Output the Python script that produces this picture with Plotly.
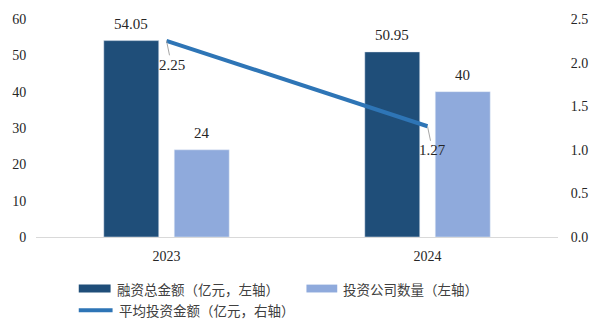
import plotly.graph_objects as go

years = [2023, 2024]
total_financing = [54.05, 50.95]
company_count = [24, 40]
avg_investment = [2.25, 1.27]

name_total = "融资总金额（亿元，左轴）"
name_count = "投资公司数量（左轴）"
name_avg = "平均投资金额（亿元，右轴）"

c_dark = "#1F4E79"
c_light = "#8FAADC"
c_line = "#2E75B6"
serif = "Liberation Serif"
cjk = "Noto Sans CJK SC"
txt = "#262626"

bargap = 0.46
bargroupgap = 0.22
half_slot = (1 - bargap) / 4  # centre offset of each bar inside a group

fig = go.Figure()
fig.add_trace(go.Bar(x=years, y=total_financing, name=name_total, marker_color=c_dark,
                     showlegend=False))
fig.add_trace(go.Bar(x=years, y=company_count, name=name_count, marker_color=c_light,
                     showlegend=False))
fig.add_trace(go.Scatter(x=years, y=avg_investment, name=name_avg, mode="lines",
                         line=dict(color=c_line, width=4), yaxis="y2", showlegend=False))

# bar value labels
for vals, off, fmt in [(total_financing, -half_slot, "{:.2f}"), (company_count, half_slot, "{}")]:
    for x, v in zip(years, vals):
        fig.add_annotation(x=x + off, y=v, xref="x", yref="y", text=fmt.format(v),
                           showarrow=False, yanchor="middle", yshift=17,
                           font=dict(family=serif, size=15, color=txt))

# line value labels
for x, v in zip(years, avg_investment):
    fig.add_annotation(x=x, y=v, xref="x", yref="y2", text=f"{v:.2f}", showarrow=True,
                       arrowhead=0, arrowwidth=1, arrowcolor="#A6A6A6", ax=5, ay=24,
                       font=dict(family=serif, size=15, color=txt))

# manual legend
legend_items = [
    (name_total, c_dark, "rect", 0.0819, 0.1429, -0.2364),
    (name_count, c_light, "rect", 0.5181, 0.5771, -0.2364),
    (name_avg, c_line, "line", 0.0819, 0.1467, -0.3364),
]
for nm, col, kind, x0, x1, yc in legend_items:
    if kind == "rect":
        fig.add_shape(type="rect", xref="paper", yref="paper", x0=x0, x1=x1,
                      y0=yc - 0.018, y1=yc + 0.018, fillcolor=col, line_width=0)
    else:
        fig.add_shape(type="line", xref="paper", yref="paper", x0=x0, x1=x1,
                      y0=yc, y1=yc, line=dict(color=col, width=4))
    fig.add_annotation(xref="paper", yref="paper", x=x1 + 0.008, y=yc, text=nm,
                       showarrow=False, xanchor="left", yanchor="middle",
                       font=dict(family=cjk, size=13.5, color="#404040"))

fig.update_layout(
    width=600, height=333,
    margin=dict(l=35, r=40, t=17, b=96),
    paper_bgcolor="white", plot_bgcolor="white",
    barmode="group", bargap=bargap, bargroupgap=bargroupgap,
    font=dict(family=serif, size=14, color=txt),
    showlegend=False,
    xaxis=dict(type="linear", range=[2022.5, 2024.5], tickvals=years,
               ticktext=[str(y) for y in years], showgrid=False, zeroline=False,
               showline=True, linecolor="#D9D9D9", linewidth=1,
               ticks="outside", ticklen=6, tickcolor="rgba(0,0,0,0)",
               tickfont=dict(family=serif, size=14, color=txt)),
    yaxis=dict(range=[0, 60], dtick=10, showgrid=False, zeroline=False, showline=False,
               ticks="outside", ticklen=6, tickcolor="rgba(0,0,0,0)",
               tickfont=dict(family=serif, size=14, color=txt)),
    yaxis2=dict(range=[0, 2.5], dtick=0.5, tickformat=".1f", overlaying="y", side="right",
                showgrid=False, zeroline=False, showline=False,
                ticks="outside", ticklen=9, tickcolor="rgba(0,0,0,0)",
                tickfont=dict(family=serif, size=14, color=txt)),
)

fig.write_html("out.html")
